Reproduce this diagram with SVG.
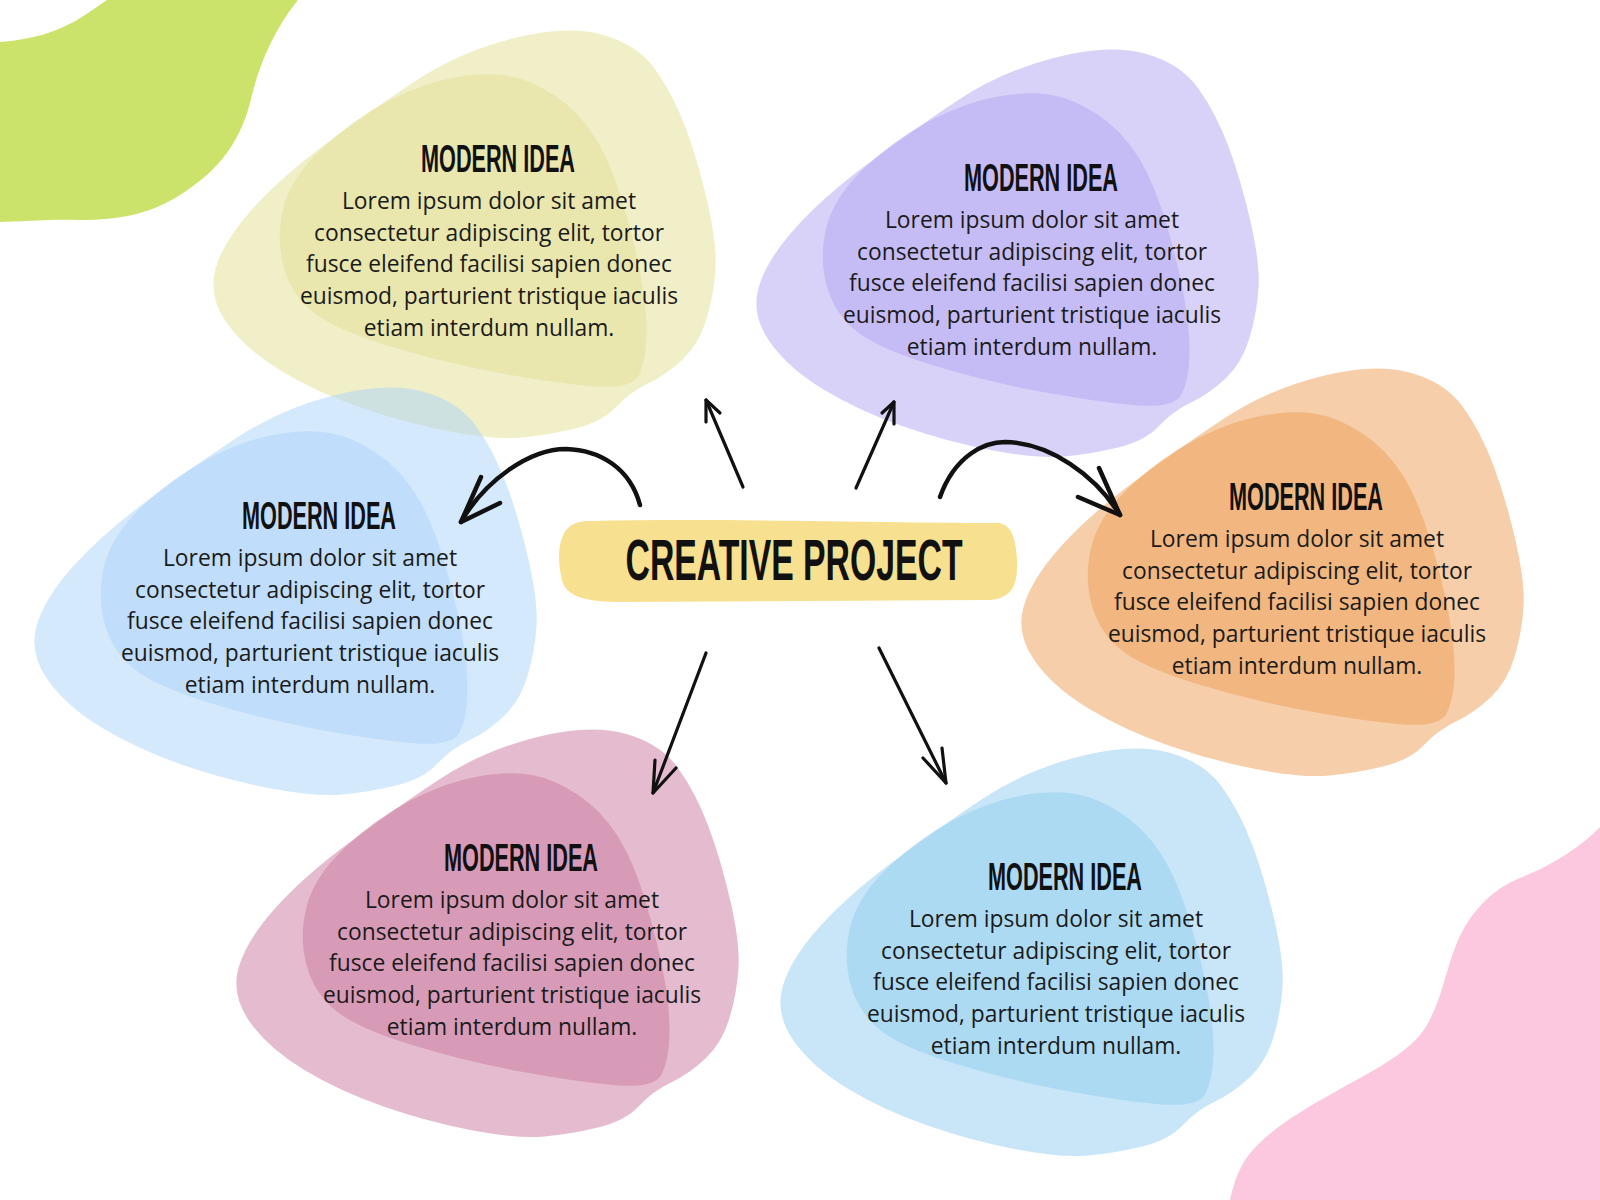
<svg xmlns="http://www.w3.org/2000/svg" xmlns:xlink="http://www.w3.org/1999/xlink" width="1600" height="1200" viewBox="0 0 1600 1200">
<style>
.blob{opacity:0.5}
.title{font-family:"Liberation Sans","DejaVu Sans",sans-serif;font-weight:700;font-size:39px;fill:#111;text-anchor:middle}
.body{font-family:"Open Sans","Noto Sans","Liberation Sans",sans-serif;font-size:22.8px;fill:#1a1a1a;text-anchor:middle}
.main{font-family:"Liberation Sans","DejaVu Sans",sans-serif;font-weight:700;font-size:58px;fill:#111;text-anchor:middle}
.ln{fill:none;stroke:#111;stroke-width:3.2;stroke-linecap:round;stroke-linejoin:round}
.ln.thick{stroke-width:4.5}
</style>
<defs>
<path id="blobA" d="M 301.5,10.5 Q 355,-3 390.5,6.5 Q 426,16 444,41 Q 462,66 474.5,99.5 Q 487,133 496.5,174.5 Q 506,216 504.5,241 Q 503,266 495.5,291 Q 488,316 471.5,331.5 Q 455,347 437,355.5 Q 419,364 405,379 Q 391,394 364,400.5 Q 337,407 310.5,409.5 Q 284,412 239,403.5 Q 194,395 149.5,379.5 Q 105,364 69.5,342.5 Q 34,321 15.5,294.5 Q -3,268 4.5,241 Q 12,214 40.5,182 Q 69,150 114,116.5 Q 159,83 203.5,53.5 Q 248,24 301.5,10.5 Z"/>
<path id="blobB" d="M 244,49.5 Q 276,44 298,48 Q 320,52 343.5,67.5 Q 367,83 383,108 Q 399,133 411.5,174.5 Q 424,216 430,249.5 Q 436,283 435.5,308 Q 435,333 427.5,347.5 Q 420,362 378.5,358 Q 337,354 283.5,344 Q 230,334 176.5,317.5 Q 123,301 101.5,283.5 Q 80,266 72.5,238 Q 65,210 72.5,180 Q 80,150 110.5,121 Q 141,92 176.5,73.5 Q 212,55 244,49.5 Z"/>
</defs>
<rect width="1600" height="1200" fill="#ffffff"/>
<g id="decor">
<path d="M 0,42 C 30,40 60,32 85,15 L 107,0 L 298,0 C 280,22 262,55 252,95 C 242,140 220,170 180,195 C 150,214 120,220 80,220 C 50,219 20,222 0,222 Z" fill="#cce36b"/>
<path d="M 1600,827 C 1580,848 1550,866 1520,878 C 1490,890 1468,915 1456,945 C 1444,975 1440,1010 1420,1035 C 1400,1058 1370,1072 1335,1092 C 1295,1114 1262,1135 1245,1160 C 1236,1175 1232,1190 1230,1200 L 1600,1200 Z" fill="#fbc8e0"/>
</g>
<g id="node1" transform="translate(211,28)">
<use xlink:href="#blobA" class="blob" fill="#e1df91"/>
<use xlink:href="#blobB" class="blob" fill="#e1df91"/>
<text class="title" x="287" y="144" textLength="154" lengthAdjust="spacingAndGlyphs">MODERN IDEA</text>
<text class="body" x="278" y="181"><tspan x="278">Lorem ipsum dolor sit amet</tspan><tspan x="278" dy="31.7">consectetur adipiscing elit, tortor</tspan><tspan x="278" dy="31.7">fusce eleifend facilisi sapien donec</tspan><tspan x="278" dy="31.7">euismod, parturient tristique iaculis</tspan><tspan x="278" dy="31.7">etiam interdum nullam.</tspan></text>
</g>
<g id="node2" transform="translate(754,47)">
<use xlink:href="#blobA" class="blob" fill="#b3a5f1"/>
<use xlink:href="#blobB" class="blob" fill="#b3a5f1"/>
<text class="title" x="287" y="144" textLength="154" lengthAdjust="spacingAndGlyphs">MODERN IDEA</text>
<text class="body" x="278" y="181"><tspan x="278">Lorem ipsum dolor sit amet</tspan><tspan x="278" dy="31.7">consectetur adipiscing elit, tortor</tspan><tspan x="278" dy="31.7">fusce eleifend facilisi sapien donec</tspan><tspan x="278" dy="31.7">euismod, parturient tristique iaculis</tspan><tspan x="278" dy="31.7">etiam interdum nullam.</tspan></text>
</g>
<g id="node3" transform="translate(1019,366)">
<use xlink:href="#blobA" class="blob" fill="#ed9f55"/>
<use xlink:href="#blobB" class="blob" fill="#ed9f55"/>
<text class="title" x="287" y="144" textLength="154" lengthAdjust="spacingAndGlyphs">MODERN IDEA</text>
<text class="body" x="278" y="181"><tspan x="278">Lorem ipsum dolor sit amet</tspan><tspan x="278" dy="31.7">consectetur adipiscing elit, tortor</tspan><tspan x="278" dy="31.7">fusce eleifend facilisi sapien donec</tspan><tspan x="278" dy="31.7">euismod, parturient tristique iaculis</tspan><tspan x="278" dy="31.7">etiam interdum nullam.</tspan></text>
</g>
<g id="node4" transform="translate(32,385)">
<use xlink:href="#blobA" class="blob" fill="#abd3f9"/>
<use xlink:href="#blobB" class="blob" fill="#abd3f9"/>
<text class="title" x="287" y="144" textLength="154" lengthAdjust="spacingAndGlyphs">MODERN IDEA</text>
<text class="body" x="278" y="181"><tspan x="278">Lorem ipsum dolor sit amet</tspan><tspan x="278" dy="31.7">consectetur adipiscing elit, tortor</tspan><tspan x="278" dy="31.7">fusce eleifend facilisi sapien donec</tspan><tspan x="278" dy="31.7">euismod, parturient tristique iaculis</tspan><tspan x="278" dy="31.7">etiam interdum nullam.</tspan></text>
</g>
<g id="node5" transform="translate(234,727)">
<use xlink:href="#blobA" class="blob" fill="#cb799f"/>
<use xlink:href="#blobB" class="blob" fill="#cb799f"/>
<text class="title" x="287" y="144" textLength="154" lengthAdjust="spacingAndGlyphs">MODERN IDEA</text>
<text class="body" x="278" y="181"><tspan x="278">Lorem ipsum dolor sit amet</tspan><tspan x="278" dy="31.7">consectetur adipiscing elit, tortor</tspan><tspan x="278" dy="31.7">fusce eleifend facilisi sapien donec</tspan><tspan x="278" dy="31.7">euismod, parturient tristique iaculis</tspan><tspan x="278" dy="31.7">etiam interdum nullam.</tspan></text>
</g>
<g id="node6" transform="translate(778,746)">
<use xlink:href="#blobA" class="blob" fill="#91cdef"/>
<use xlink:href="#blobB" class="blob" fill="#91cdef"/>
<text class="title" x="287" y="144" textLength="154" lengthAdjust="spacingAndGlyphs">MODERN IDEA</text>
<text class="body" x="278" y="181"><tspan x="278">Lorem ipsum dolor sit amet</tspan><tspan x="278" dy="31.7">consectetur adipiscing elit, tortor</tspan><tspan x="278" dy="31.7">fusce eleifend facilisi sapien donec</tspan><tspan x="278" dy="31.7">euismod, parturient tristique iaculis</tspan><tspan x="278" dy="31.7">etiam interdum nullam.</tspan></text>
</g>
<g id="center">
<path d="M 590,521 C 720,518 880,523 998,523 C 1012,524 1016,540 1017,560 C 1018,585 1012,598 990,600 L 620,602 C 590,602 566,598 562,580 C 557,560 558,538 568,528 C 574,522 582,521 590,521 Z" fill="#f7e08f"/>
<text class="main" x="794" y="580" textLength="337" lengthAdjust="spacingAndGlyphs">CREATIVE PROJECT</text>
</g>
<g id="connectors">
<path class="ln" d="M 743,487 L 706,400"/>
<path class="ln" d="M 706,422 L 706,400 L 720,413"/>
<path class="ln" d="M 856,488 L 894,402"/>
<path class="ln" d="M 882,413 L 894,402 L 894,424"/>
<path class="ln thick" d="M 640,505 C 630,468 600,450 566,449 C 530,449 485,480 461,522"/>
<path class="ln thick" d="M 481,477 L 461,522 L 500,503"/>
<path class="ln thick" d="M 940,497 C 955,455 985,442 1005,442 C 1050,443 1095,475 1120,515"/>
<path class="ln thick" d="M 1099,468 L 1120,515 L 1078,497"/>
<path class="ln" d="M 706,653 L 653,793"/>
<path class="ln" d="M 655,760 L 653,793 L 676,768"/>
<path class="ln" d="M 879,648 L 946,783"/>
<path class="ln" d="M 942,748 L 946,783 L 923,758"/>
</g>
</svg>
